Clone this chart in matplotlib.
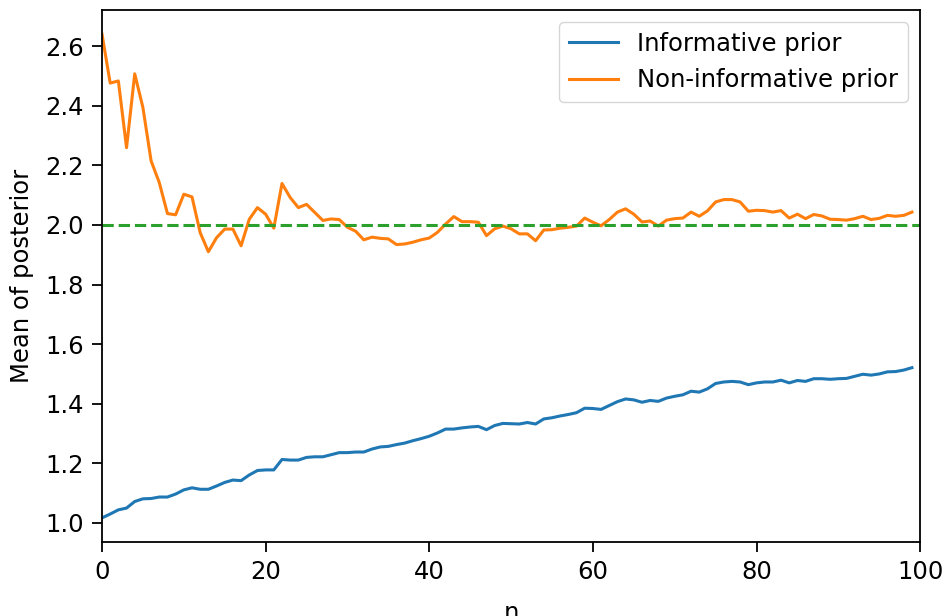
import matplotlib
matplotlib.use("Agg")
import matplotlib.pyplot as plt

# posterior means for n = 0..99
informative = [
    1.017, 1.030, 1.044, 1.050, 1.072, 1.081, 1.082, 1.087, 1.087, 1.097,
    1.111, 1.118, 1.113, 1.113, 1.124, 1.136, 1.144, 1.142, 1.161, 1.176,
    1.178, 1.178, 1.213, 1.211, 1.211, 1.220, 1.222, 1.222, 1.229, 1.236,
    1.236, 1.238, 1.238, 1.248, 1.255, 1.257, 1.263, 1.268, 1.276, 1.283,
    1.291, 1.302, 1.315, 1.315, 1.319, 1.322, 1.324, 1.313, 1.327, 1.334,
    1.333, 1.332, 1.337, 1.332, 1.349, 1.353, 1.359, 1.364, 1.370, 1.385,
    1.384, 1.381, 1.394, 1.407, 1.416, 1.413, 1.405, 1.411, 1.408, 1.419,
    1.425, 1.430, 1.442, 1.439, 1.450, 1.468, 1.473, 1.475, 1.473, 1.464,
    1.470, 1.473, 1.473, 1.479, 1.470, 1.478, 1.475, 1.484, 1.484, 1.482,
    1.484, 1.485, 1.492, 1.499, 1.496, 1.500, 1.507, 1.508, 1.513, 1.521,
]

non_informative = [
    2.640, 2.476, 2.483, 2.259, 2.507, 2.394, 2.215, 2.142, 2.038, 2.034,
    2.103, 2.094, 1.974, 1.910, 1.957, 1.986, 1.986, 1.930, 2.019, 2.058,
    2.036, 1.989, 2.139, 2.092, 2.058, 2.069, 2.042, 2.015, 2.020, 2.018,
    1.992, 1.979, 1.950, 1.959, 1.955, 1.953, 1.934, 1.936, 1.942, 1.950,
    1.956, 1.975, 2.003, 2.028, 2.011, 2.011, 2.009, 1.964, 1.987, 1.996,
    1.987, 1.970, 1.970, 1.947, 1.983, 1.984, 1.989, 1.992, 1.996, 2.023,
    2.009, 1.997, 2.018, 2.043, 2.054, 2.036, 2.010, 2.013, 1.996, 2.016,
    2.021, 2.023, 2.043, 2.029, 2.047, 2.077, 2.085, 2.085, 2.077, 2.046,
    2.049, 2.048, 2.043, 2.048, 2.023, 2.036, 2.021, 2.035, 2.030, 2.019,
    2.018, 2.016, 2.021, 2.029, 2.018, 2.022, 2.032, 2.029, 2.032, 2.043,
]

true_mean = 2.0
ns = list(range(len(informative)))

fig = plt.figure(figsize=(9.48, 6.16), dpi=100)
ax = fig.add_axes([0.1076, 0.12, 0.863, 0.8638])

ax.plot(ns, informative, label="Informative prior", lw=2.2)
ax.plot(ns, non_informative, label="Non-informative prior", lw=2.2)
ax.axhline(true_mean, color="C2", linestyle="--", lw=2.2)

ax.set_xlim(0, 100)
ax.set_xlabel("n", fontsize=17.5, labelpad=12)
ax.set_ylabel("Mean of posterior", fontsize=17.5, labelpad=8)
ax.tick_params(labelsize=17.5, width=1.3, length=7, pad=6)
for s in ax.spines.values():
    s.set_linewidth(1.3)
ax.legend(loc="upper right", fontsize=17.5)

fig.savefig("out.png", dpi=100)
